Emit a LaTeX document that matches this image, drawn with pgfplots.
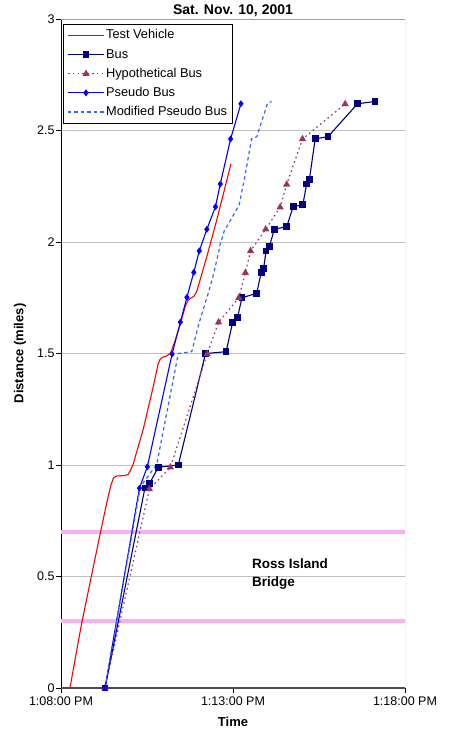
\documentclass[border=0pt]{standalone}
\usepackage{fontspec}
\setmainfont{Liberation Sans}
\usepackage{pgfplots}
\pgfplotsset{compat=1.18}

\definecolor{testred}{RGB}{255,0,0}
\definecolor{busnavy}{RGB}{0,0,128}
\definecolor{hypmaroon}{RGB}{153,51,102}
\definecolor{pseudoblue}{RGB}{0,0,255}
\definecolor{modblue}{RGB}{51,102,255}
\definecolor{bridgepink}{RGB}{250,175,245}
\definecolor{gridgray}{RGB}{192,192,192}
\definecolor{framegray}{RGB}{160,160,160}

\begin{document}
\begin{tikzpicture}
\begin{axis}[
  at={(0,0)}, anchor=south west,
  scale only axis, width=344pt, height=669pt,
  xmin=0, xmax=10, ymin=0, ymax=3,
  axis x line*=bottom, axis y line*=left,
  x axis line style={-, draw=black!70, line width=1.3pt},
  y axis line style={-, draw=black, line width=0.9pt},
  xtick={0,5,10},
  xticklabels={1:08:00 PM,1:13:00 PM,1:18:00 PM},
  ytick={0,0.5,1,1.5,2,2.5,3},
  tick align=outside, major tick length=5pt,
  tick style={black, line width=0.7pt},
  ymajorgrids, grid style={gridgray, line width=0.8pt},
  /pgf/number format/assume math mode=true,
  ticklabel style={font=\fontsize{12.5}{15}\selectfont},
  yticklabel style={xshift=2pt},
  title={Sat. Nov. 10, 2001},
  title style={font=\bfseries\fontsize{14}{16}\selectfont, at={(axis description cs:0.5,1)}, anchor=center, yshift=2.5pt},
  xlabel={Time},
  xlabel style={font=\bfseries\fontsize{13}{15}\selectfont, at={(axis description cs:0.5,0)}, anchor=center, yshift=-34pt},
  ylabel={Distance (miles)},
  ylabel style={font=\bfseries\fontsize{13}{15}\selectfont, at={(axis description cs:0,0.5)}, anchor=center, yshift=41pt},
  legend cell align=left,
  legend style={at={(axis description cs:0,1)}, anchor=north west, xshift=2pt, yshift=-5pt,
    draw=black, line width=0.8pt, fill=white,
    font=\fontsize{12.8}{15}\selectfont, row sep=3.8pt,
    inner xsep=4pt, inner ysep=3.5pt,
    nodes={inner sep=1.5pt, text height=9.5pt, text depth=2.8pt}},
  legend image code/.code={\draw[line width=1.2pt, mark repeat=2, mark phase=2, #1] plot coordinates {(0pt,0pt) (18pt,0pt) (36pt,0pt)};},
]

% plot frame (top and right edges)
\draw[framegray, line width=0.9pt] (rel axis cs:0,1) -- (rel axis cs:1,1) -- (rel axis cs:1,0);

% bridge limits
\addplot[forget plot, bridgepink, line width=4pt] coordinates {(0,0.7) (10,0.7)};
\addplot[forget plot, bridgepink, line width=4pt] coordinates {(0,0.3) (10,0.3)};

\addplot[draw=testred, line width=1.1pt, no markers] coordinates {
 (0.26,0) (0.60,0.29) (1.15,0.70) (1.33,0.83) (1.45,0.91) (1.53,0.943)
 (1.62,0.951) (1.75,0.952) (1.88,0.953) (1.95,0.958) (2.02,0.975) (2.10,1.005)
 (2.39,1.16) (2.68,1.35) (2.82,1.45) (2.88,1.474) (2.95,1.483) (3.07,1.489)
 (3.18,1.50) (3.30,1.55) (3.46,1.628) (3.62,1.715) (3.70,1.740) (3.78,1.749)
 (3.86,1.756) (3.95,1.78) (4.24,1.935) (4.53,2.10) (4.94,2.35)};
\addlegendentry{Test Vehicle}

\addplot[busnavy, line width=1.1pt, mark=square*, mark size=2.8pt, mark options={fill=busnavy}] coordinates {
 (1.28,0) (2.44,0.897) (2.57,0.916) (2.83,0.99) (3.41,1.0) (4.20,1.50) (4.80,1.508)
 (4.99,1.64) (5.13,1.66) (5.26,1.75) (5.69,1.77) (5.82,1.864) (5.89,1.88)
 (5.96,1.96) (6.06,1.98) (6.20,2.057) (6.56,2.069) (6.75,2.158) (7.03,2.167)
 (7.14,2.26) (7.22,2.28) (7.39,2.463) (7.76,2.472) (8.62,2.62) (9.13,2.63)};
\addlegendentry{Bus}

\addplot[hypmaroon, line width=1.2pt, dash pattern=on 1.6pt off 3.2pt, mark=triangle*, mark size=3pt, mark options={solid, fill=hypmaroon}] coordinates {
 (1.28,0) (2.57,0.892) (3.18,0.99) (4.25,1.498) (4.58,1.64) (5.17,1.75)
 (5.36,1.862) (5.51,1.96) (5.95,2.057) (6.37,2.156) (6.56,2.258) (7.02,2.462) (8.26,2.619)};
\addlegendentry{Hypothetical Bus}

\addplot[pseudoblue, line width=1.1pt, mark=diamond*, mark size=2.6pt, mark options={fill=pseudoblue}] coordinates {
 (1.28,0) (2.28,0.896) (2.51,0.992) (3.23,1.498) (3.47,1.641) (3.66,1.752)
 (3.86,1.864) (4.02,1.96) (4.24,2.057) (4.49,2.158) (4.63,2.26) (4.93,2.462) (5.23,2.62)};
\addlegendentry{Pseudo Bus}

\addplot[modblue, line width=1.2pt, dash pattern=on 3.5pt off 3pt, no markers] coordinates {
 (1.28,0) (2.30,0.897) (2.37,0.916) (2.72,0.99) (2.78,1.0) (3.41,1.50) (3.80,1.508)
 (4.02,1.64) (4.06,1.66) (4.24,1.75) (4.28,1.77) (4.45,1.864) (4.47,1.88)
 (4.59,1.96) (4.61,1.98) (4.76,2.057) (4.82,2.069) (5.15,2.158) (5.18,2.167)
 (5.30,2.26) (5.33,2.28) (5.54,2.463) (5.69,2.472) (6.00,2.62) (6.12,2.63)};
\addlegendentry{Modified Pseudo Bus}

\node[anchor=west, align=left, font=\bfseries\fontsize{13.5}{18}\selectfont] at (axis cs:5.45,0.51) {Ross Island\\Bridge};
\end{axis}
\pgfresetboundingbox
\path[use as bounding box] (-61pt,-44pt) rectangle (387pt,688pt);
\end{tikzpicture}
\end{document}
